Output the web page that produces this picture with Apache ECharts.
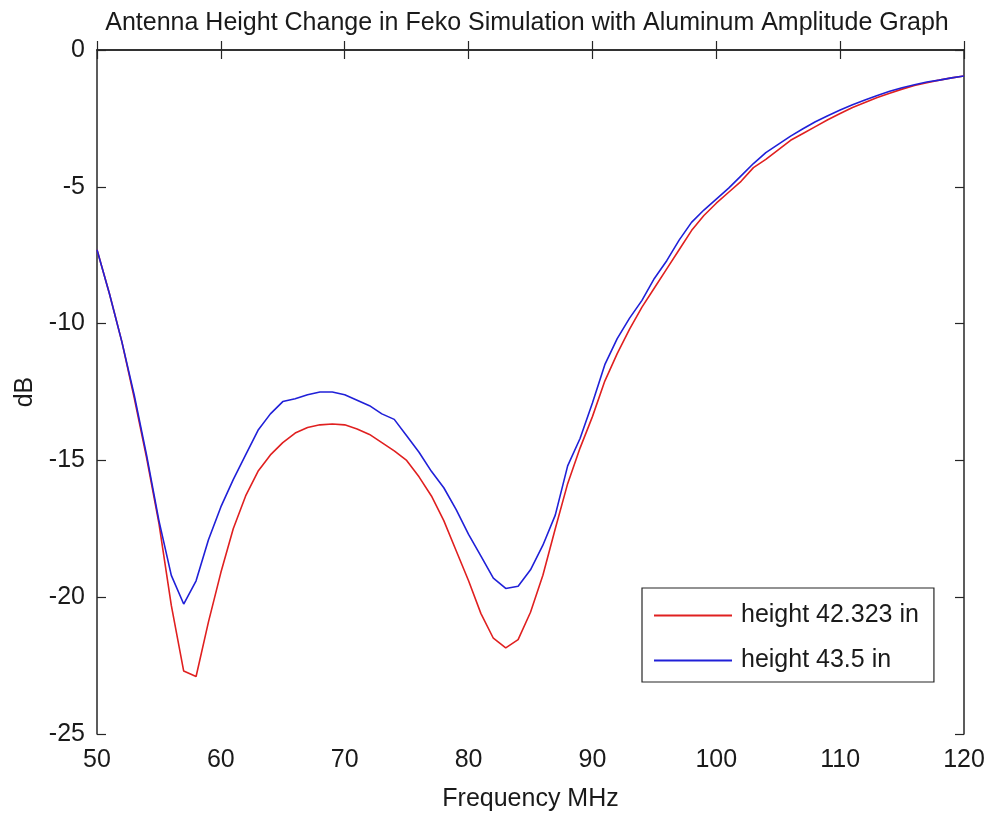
<!DOCTYPE html>
<html>
<head>
<meta charset="utf-8">
<script src="https://cdn.jsdelivr.net/npm/echarts@6/dist/echarts.min.js"></script>
<style>
html,body{margin:0;padding:0;background:#fff;}
#chart{width:990px;height:818px;}
</style>
</head>
<body>
<div id="chart"></div>
<script>
var titleText = 'Antenna Height Change in Feko Simulation with Aluminum Amplitude Graph';
var xLabel = 'Frequency MHz';
var yLabel = 'dB';
var seriesNames = ['height 42.323 in', 'height 43.5 in'];

var freq = [50,51,52,53,54,55,56,57,58,59,60,61,62,63,64,65,66,67,68,69,70,
  71,72,73,74,75,76,77,78,79,80,81,82,83,84,85,86,87,88,89,90,
  91,92,93,94,95,96,97,98,99,100,101,102,103,104,105,106,107,108,109,110,
  111,112,113,114,115,116,117,118,119,120];

var h42 = [-7.3,-8.9,-10.65,-12.7,-14.9,-17.3,-20.3,-22.7,-22.9,-20.9,-19.1,
  -17.5,-16.3,-15.4,-14.8,-14.35,-14.0,-13.8,-13.7,-13.67,-13.7,
  -13.85,-14.05,-14.35,-14.65,-15.0,-15.6,-16.3,-17.2,-18.3,-19.4,
  -20.6,-21.5,-21.85,-21.55,-20.55,-19.2,-17.5,-15.85,-14.55,-13.4,
  -12.1,-11.1,-10.2,-9.4,-8.7,-8.0,-7.3,-6.6,-6.05,-5.6,
  -5.2,-4.8,-4.3,-4.0,-3.65,-3.3,-3.05,-2.8,-2.55,-2.32,
  -2.1,-1.92,-1.74,-1.58,-1.43,-1.3,-1.2,-1.1,-1.02,-0.95];

var h43 = [-7.3,-8.9,-10.65,-12.6,-14.8,-17.2,-19.2,-20.25,-19.4,-17.9,-16.7,
  -15.7,-14.8,-13.9,-13.3,-12.85,-12.75,-12.6,-12.5,-12.5,-12.6,
  -12.8,-13.0,-13.3,-13.5,-14.1,-14.7,-15.4,-16.0,-16.8,-17.7,
  -18.5,-19.3,-19.68,-19.6,-19.0,-18.1,-17.0,-15.2,-14.2,-12.9,
  -11.5,-10.55,-9.8,-9.15,-8.35,-7.7,-6.95,-6.3,-5.85,-5.45,
  -5.05,-4.6,-4.15,-3.75,-3.45,-3.15,-2.88,-2.62,-2.4,-2.19,
  -2.0,-1.83,-1.66,-1.51,-1.38,-1.27,-1.17,-1.1,-1.02,-0.95];

var xTicks = {min: 50, max: 120, interval: 10};
var yTicks = {min: -25, max: 0, interval: 5};

function pairs(xs, ys){ return xs.map(function(x,i){ return [x, ys[i]]; }); }

var font = 'Liberation Sans, Arial, Helvetica, sans-serif';
var fs = 25;
var axisCol = '#262626';
var txtCol = '#1a1a1a';
var redCol = '#e02020';
var blueCol = '#2020d8';

var chart = echarts.init(document.getElementById('chart'), null, {renderer:'canvas'});
var baseAxisLine = {show:true, lineStyle:{color:axisCol, width:1.5}};
var tickStyle = {show:true, inside:true, length:9, lineStyle:{color:axisCol, width:1.2}};
var option = {
  backgroundColor:'#ffffff',
  animation:false,
  title:{
    text:titleText, left:522, top:6, textAlign:'center',
    textStyle:{fontFamily:font, fontSize:fs, fontWeight:'normal', color:txtCol}
  },
  grid:{left:97, right:26, top:50, bottom:84, containLabel:false},
  legend:{
    orient:'vertical', left:642, top:588,
    padding:[15,15,9,12], itemWidth:78, itemHeight:2, itemGap:20,
    icon:'rect',
    borderColor:axisCol, borderWidth:1.2, backgroundColor:'#fff',
    textStyle:{fontFamily:font, fontSize:fs, color:txtCol, padding:[0,0,0,4]},
    data:[{name:seriesNames[0], itemStyle:{color:redCol}}, {name:seriesNames[1], itemStyle:{color:blueCol}}]
  },
  xAxis:[{
    type:'value', min:xTicks.min, max:xTicks.max, interval:xTicks.interval,
    name:xLabel, nameLocation:'middle', nameGap:53,
    nameTextStyle:{fontFamily:font, fontSize:fs, color:txtCol},
    axisLine:baseAxisLine, axisTick:tickStyle,
    axisLabel:{fontFamily:font, fontSize:fs, color:txtCol, margin:14},
    splitLine:{show:false}
  },{
    type:'value', position:'top', min:xTicks.min, max:xTicks.max, interval:xTicks.interval,
    axisLine:baseAxisLine, axisTick:tickStyle,
    axisLabel:{show:false}, splitLine:{show:false}
  }],
  yAxis:[{
    type:'value', min:yTicks.min, max:yTicks.max, interval:yTicks.interval,
    name:yLabel, nameLocation:'middle', nameGap:57,
    nameTextStyle:{fontFamily:font, fontSize:fs, color:txtCol},
    axisLine:baseAxisLine, axisTick:tickStyle,
    axisLabel:{fontFamily:font, fontSize:fs, color:txtCol, margin:12},
    splitLine:{show:false}
  },{
    type:'value', position:'right', min:yTicks.min, max:yTicks.max, interval:yTicks.interval,
    axisLine:baseAxisLine, axisTick:tickStyle,
    axisLabel:{show:false}, splitLine:{show:false}
  }],
  series:[{
    name:seriesNames[0], type:'line', xAxisIndex:0, yAxisIndex:0,
    data:pairs(freq, h42), symbol:'none', smooth:false,
    lineStyle:{color:redCol, width:1.6}, itemStyle:{color:redCol}
  },{
    name:seriesNames[1], type:'line', xAxisIndex:0, yAxisIndex:0,
    data:pairs(freq, h43), symbol:'none', smooth:false,
    lineStyle:{color:blueCol, width:1.6}, itemStyle:{color:blueCol}
  }]
};
chart.setOption(option);
</script>
</body>
</html>
